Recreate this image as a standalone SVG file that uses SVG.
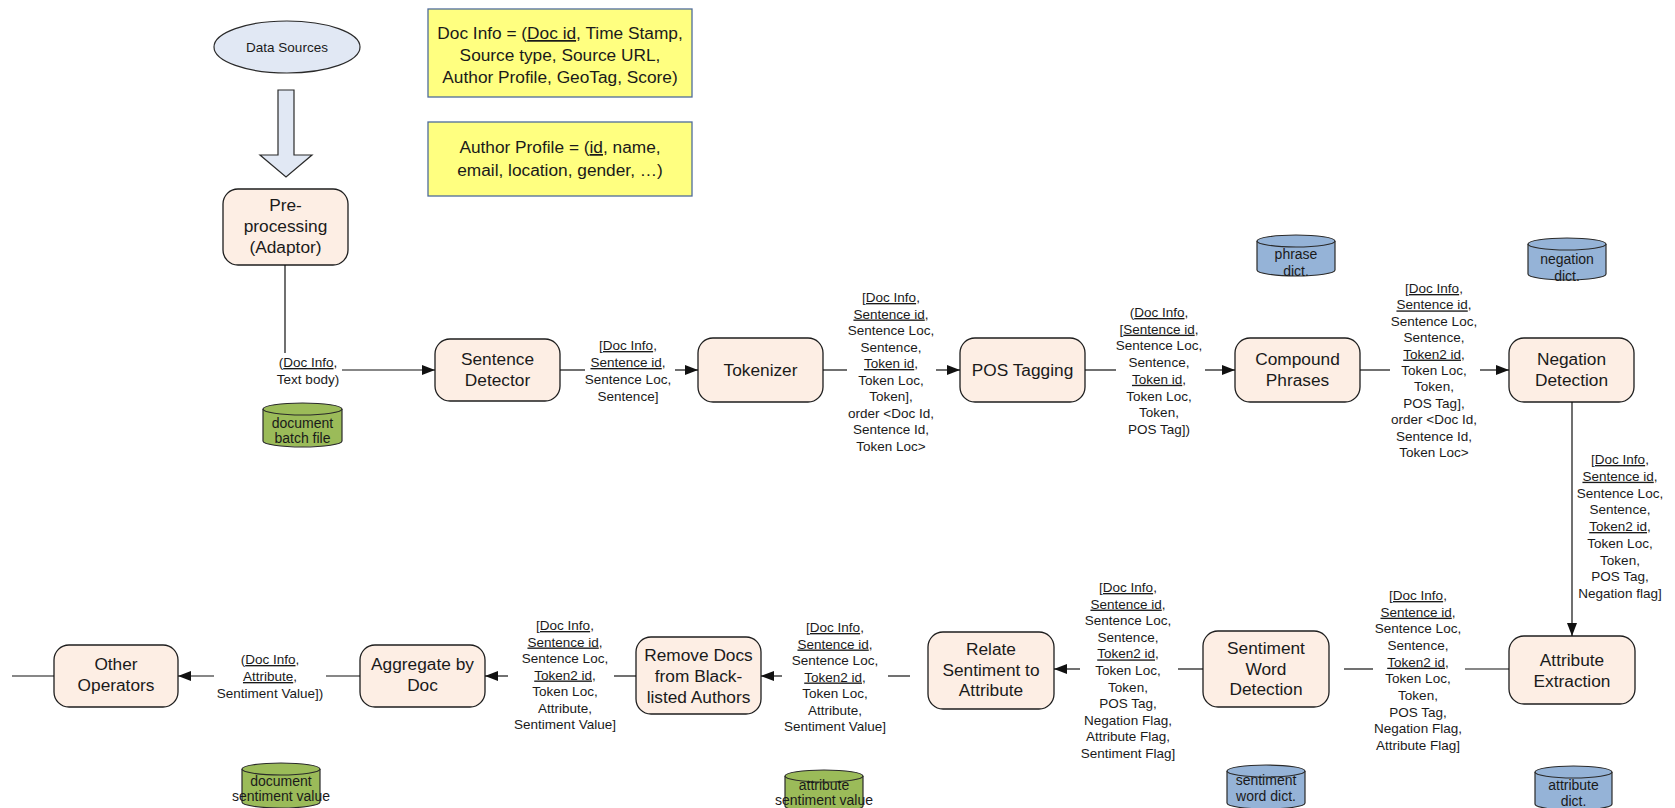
<svg xmlns="http://www.w3.org/2000/svg" width="1675" height="808" viewBox="0 0 1675 808">
  <style>
    .proc { fill: #fdeee4; stroke: #1e1e1e; stroke-width: 1.3; }
    .note { fill: #ffff80; stroke: #4f6c9a; stroke-width: 1.3; }
    .src { fill: #e1e8f4; stroke: #2a2a2a; stroke-width: 1.2; }
    .dbg { fill: #9bbb59; stroke: #2a2a2a; stroke-width: 1.2; }
    .dbb { fill: #95b3d7; stroke: #2a2a2a; stroke-width: 1.2; }
    text { font-family: "Liberation Sans", Arial, sans-serif; fill: #1a1a1a; text-anchor: middle; }
    .nt { font-size: 17.3px; }
    .lb { font-size: 13.5px; }
    .db { font-size: 14px; }
    .u { text-decoration: underline; }
    .conn path { fill: none; stroke: #111; stroke-width: 1.2; }
  </style>
  <defs>
    <marker id="arr" markerUnits="userSpaceOnUse" markerWidth="13" markerHeight="10" refX="13" refY="5" orient="auto">
      <path d="M0,0 L13,5 L0,10 z" fill="#111"/>
    </marker>
  </defs>

  <rect width="1675" height="808" fill="#ffffff"/>

  <!-- source and notes -->
  <g id="data-sources">
    <ellipse class="src" cx="287" cy="47" rx="73" ry="26"/>
    <text class="lb" x="287" y="52">Data Sources</text>
  </g>
  <g id="ingest-arrow">
    <polygon class="src" points="278,90 294,90 294,155 312,155 286,177 260,155 278,155"/>
  </g>
  <g id="doc-info-note">
    <rect class="note" x="428" y="9" width="264" height="88"/>
    <text class="nt" x="560" y="39">Doc Info = (<tspan class="u">Doc id</tspan>, Time Stamp,</text>
    <text class="nt" x="560" y="61">Source type, Source URL,</text>
    <text class="nt" x="560" y="83">Author Profile, GeoTag, Score)</text>
  </g>
  <g id="author-profile-note">
    <rect class="note" x="428" y="122" width="264" height="74"/>
    <text class="nt" x="560" y="153">Author Profile = (<tspan class="u">id</tspan>, name,</text>
    <text class="nt" x="560" y="176">email, location, gender, …)</text>
  </g>

  <!-- processing steps -->
  <g id="pre-processing">
    <rect class="proc" x="223" y="189" width="125" height="76" rx="15"/>
    <text class="nt" x="285.5" y="211">Pre-</text>
    <text class="nt" x="285.5" y="232">processing</text>
    <text class="nt" x="285.5" y="253">(Adaptor)</text>
  </g>
  <g id="sentence-detector">
    <rect class="proc" x="435" y="339" width="125" height="62" rx="15"/>
    <text class="nt" x="497.5" y="365">Sentence</text>
    <text class="nt" x="497.5" y="386">Detector</text>
  </g>
  <g id="tokenizer">
    <rect class="proc" x="698" y="338" width="125" height="64" rx="15"/>
    <text class="nt" x="760.5" y="376">Tokenizer</text>
  </g>
  <g id="pos-tagging">
    <rect class="proc" x="960" y="338" width="125" height="64" rx="15"/>
    <text class="nt" x="1022.5" y="376">POS Tagging</text>
  </g>
  <g id="compound-phrases">
    <rect class="proc" x="1235" y="338" width="125" height="64" rx="15"/>
    <text class="nt" x="1297.5" y="365">Compound</text>
    <text class="nt" x="1297.5" y="386">Phrases</text>
  </g>
  <g id="negation-detection">
    <rect class="proc" x="1509" y="338" width="125" height="64" rx="15"/>
    <text class="nt" x="1571.5" y="365">Negation</text>
    <text class="nt" x="1571.5" y="386">Detection</text>
  </g>
  <g id="attribute-extraction">
    <rect class="proc" x="1509" y="636" width="126" height="68" rx="15"/>
    <text class="nt" x="1572" y="666">Attribute</text>
    <text class="nt" x="1572" y="687">Extraction</text>
  </g>
  <g id="sentiment-word-detection">
    <rect class="proc" x="1203" y="631" width="126" height="76" rx="15"/>
    <text class="nt" x="1266" y="654">Sentiment</text>
    <text class="nt" x="1266" y="675">Word</text>
    <text class="nt" x="1266" y="695">Detection</text>
  </g>
  <g id="relate-sentiment">
    <rect class="proc" x="928" y="632" width="126" height="77" rx="15"/>
    <text class="nt" x="991" y="655">Relate</text>
    <text class="nt" x="991" y="676">Sentiment to</text>
    <text class="nt" x="991" y="696">Attribute</text>
  </g>
  <g id="remove-blacklisted">
    <rect class="proc" x="636" y="637" width="125" height="77" rx="15"/>
    <text class="nt" x="698.5" y="661">Remove Docs</text>
    <text class="nt" x="698.5" y="682">from Black-</text>
    <text class="nt" x="698.5" y="703">listed Authors</text>
  </g>
  <g id="aggregate-by-doc">
    <rect class="proc" x="360" y="645" width="125" height="62" rx="15"/>
    <text class="nt" x="422.5" y="670">Aggregate by</text>
    <text class="nt" x="422.5" y="691">Doc</text>
  </g>
  <g id="other-operators">
    <rect class="proc" x="54" y="645" width="124" height="62" rx="15"/>
    <text class="nt" x="116" y="670">Other</text>
    <text class="nt" x="116" y="691">Operators</text>
  </g>

  <!-- data stores -->
  <g id="document-batch-file">
    <path class="dbg" d="M263,409 A39.5,6 0 0 1 342,409 V441 A39.5,6 0 0 1 263,441 Z"/>
    <path class="dbg" d="M263,409 A39.5,6 0 0 0 342,409" fill="none"/>
    <text class="db" x="302.5" y="428">document</text>
    <text class="db" x="302.5" y="443">batch file</text>
  </g>
  <g id="phrase-dict">
    <path class="dbb" d="M1257,241 A39,6 0 0 1 1335,241 V270 A39,6 0 0 1 1257,270 Z"/>
    <path class="dbb" d="M1257,241 A39,6 0 0 0 1335,241" fill="none"/>
    <text class="db" x="1296" y="259">phrase</text>
    <text class="db" x="1296" y="276">dict.</text>
  </g>
  <g id="negation-dict">
    <path class="dbb" d="M1528,244 A39,6 0 0 1 1606,244 V274 A39,6 0 0 1 1528,274 Z"/>
    <path class="dbb" d="M1528,244 A39,6 0 0 0 1606,244" fill="none"/>
    <text class="db" x="1567" y="264">negation</text>
    <text class="db" x="1567" y="281">dict.</text>
  </g>
  <g id="attribute-dict">
    <path class="dbb" d="M1535,772 A38.5,6 0 0 1 1612,772 V804 A38.5,6 0 0 1 1535,804 Z"/>
    <path class="dbb" d="M1535,772 A38.5,6 0 0 0 1612,772" fill="none"/>
    <text class="db" x="1573.5" y="790">attribute</text>
    <text class="db" x="1573.5" y="806">dict.</text>
  </g>
  <g id="sentiment-word-dict">
    <path class="dbb" d="M1227,771 A39,6 0 0 1 1305,771 V803 A39,6 0 0 1 1227,803 Z"/>
    <path class="dbb" d="M1227,771 A39,6 0 0 0 1305,771" fill="none"/>
    <text class="db" x="1266" y="785">sentiment</text>
    <text class="db" x="1266" y="801">word dict.</text>
  </g>
  <g id="attribute-sentiment-value">
    <path class="dbg" d="M785,776 A39,6 0 0 1 863,776 V806 A39,6 0 0 1 785,806 Z"/>
    <path class="dbg" d="M785,776 A39,6 0 0 0 863,776" fill="none"/>
    <text class="db" x="824" y="790">attribute</text>
    <text class="db" x="824" y="805">sentiment value</text>
  </g>
  <g id="document-sentiment-value">
    <path class="dbg" d="M242,769 A39,6 0 0 1 320,769 V802 A39,6 0 0 1 242,802 Z"/>
    <path class="dbg" d="M242,769 A39,6 0 0 0 320,769" fill="none"/>
    <text class="db" x="281" y="786">document</text>
    <text class="db" x="281" y="801">sentiment value</text>
  </g>

  <!-- connectors -->
  <g id="connectors" class="conn">
    <path d="M285,265 V353"/>
    <path d="M342,370 H435" marker-end="url(#arr)"/>
    <path d="M560,370 H585"/>
    <path d="M675,370 H698" marker-end="url(#arr)"/>
    <path d="M823,370 H847"/>
    <path d="M936,370 H960" marker-end="url(#arr)"/>
    <path d="M1085,370 H1116"/>
    <path d="M1205,370 H1235" marker-end="url(#arr)"/>
    <path d="M1360,370 H1390"/>
    <path d="M1480,370 H1509" marker-end="url(#arr)"/>
    <path d="M1572,402 V636" marker-end="url(#arr)"/>
    <path d="M1509,669 H1465"/>
    <path d="M1373,669 H1344"/>
    <path d="M1203,669 H1178"/>
    <path d="M1080,669 H1054" marker-end="url(#arr)"/>
    <path d="M910,676 H888"/>
    <path d="M782,676 H761" marker-end="url(#arr)"/>
    <path d="M636,676 H614"/>
    <path d="M508,676 H485" marker-end="url(#arr)"/>
    <path d="M360,676 H326"/>
    <path d="M214,676 H178" marker-end="url(#arr)"/>
    <path d="M54,676 H12"/>
  </g>

  <!-- connector labels -->
  <g id="connector-labels" class="lb">
    <text class="lb" x="308" y="367">(<tspan class="u">Doc Info</tspan>,</text>
    <text class="lb" x="308" y="384">Text body)</text>

    <text class="lb" x="628" y="350"><tspan class="u">[Doc Info</tspan>,</text>
    <text class="lb" x="628" y="367"><tspan class="u">Sentence id</tspan>,</text>
    <text class="lb" x="628" y="384">Sentence Loc,</text>
    <text class="lb" x="628" y="401">Sentence]</text>

    <text class="lb" x="891" y="302"><tspan class="u">[Doc Info</tspan>,</text>
    <text class="lb" x="891" y="318.5"><tspan class="u">Sentence id</tspan>,</text>
    <text class="lb" x="891" y="335">Sentence Loc,</text>
    <text class="lb" x="891" y="351.5">Sentence,</text>
    <text class="lb" x="891" y="368"><tspan class="u">Token id</tspan>,</text>
    <text class="lb" x="891" y="384.5">Token Loc,</text>
    <text class="lb" x="891" y="401">Token],</text>
    <text class="lb" x="891" y="417.5">order &lt;Doc Id,</text>
    <text class="lb" x="891" y="434">Sentence Id,</text>
    <text class="lb" x="891" y="450.5">Token Loc&gt;</text>

    <text class="lb" x="1159" y="317">(<tspan class="u">Doc Info</tspan>,</text>
    <text class="lb" x="1159" y="333.7">[<tspan class="u">Sentence id</tspan>,</text>
    <text class="lb" x="1159" y="350.4">Sentence Loc,</text>
    <text class="lb" x="1159" y="367.1">Sentence,</text>
    <text class="lb" x="1159" y="383.8"><tspan class="u">Token id</tspan>,</text>
    <text class="lb" x="1159" y="400.5">Token Loc,</text>
    <text class="lb" x="1159" y="417.2">Token,</text>
    <text class="lb" x="1159" y="434">POS Tag])</text>

    <text class="lb" x="1434" y="293"><tspan class="u">[Doc Info</tspan>,</text>
    <text class="lb" x="1434" y="309.4"><tspan class="u">Sentence id</tspan>,</text>
    <text class="lb" x="1434" y="325.8">Sentence Loc,</text>
    <text class="lb" x="1434" y="342.2">Sentence,</text>
    <text class="lb" x="1434" y="358.6"><tspan class="u">Token2 id</tspan>,</text>
    <text class="lb" x="1434" y="375">Token Loc,</text>
    <text class="lb" x="1434" y="391.4">Token,</text>
    <text class="lb" x="1434" y="407.8">POS Tag],</text>
    <text class="lb" x="1434" y="424.2">order &lt;Doc Id,</text>
    <text class="lb" x="1434" y="440.6">Sentence Id,</text>
    <text class="lb" x="1434" y="457">Token Loc&gt;</text>

    <text class="lb" x="1620" y="464"><tspan class="u">[Doc Info</tspan>,</text>
    <text class="lb" x="1620" y="480.75"><tspan class="u">Sentence id</tspan>,</text>
    <text class="lb" x="1620" y="497.5">Sentence Loc,</text>
    <text class="lb" x="1620" y="514.25">Sentence,</text>
    <text class="lb" x="1620" y="531"><tspan class="u">Token2 id</tspan>,</text>
    <text class="lb" x="1620" y="547.75">Token Loc,</text>
    <text class="lb" x="1620" y="564.5">Token,</text>
    <text class="lb" x="1620" y="581.25">POS Tag,</text>
    <text class="lb" x="1620" y="598">Negation flag]</text>

    <text class="lb" x="1418" y="600"><tspan class="u">[Doc Info</tspan>,</text>
    <text class="lb" x="1418" y="616.7"><tspan class="u">Sentence id</tspan>,</text>
    <text class="lb" x="1418" y="633.3">Sentence Loc,</text>
    <text class="lb" x="1418" y="650">Sentence,</text>
    <text class="lb" x="1418" y="666.7"><tspan class="u">Token2 id</tspan>,</text>
    <text class="lb" x="1418" y="683.3">Token Loc,</text>
    <text class="lb" x="1418" y="700">Token,</text>
    <text class="lb" x="1418" y="716.7">POS Tag,</text>
    <text class="lb" x="1418" y="733.3">Negation Flag,</text>
    <text class="lb" x="1418" y="750">Attribute Flag]</text>

    <text class="lb" x="1128" y="592"><tspan class="u">[Doc Info</tspan>,</text>
    <text class="lb" x="1128" y="608.6"><tspan class="u">Sentence id</tspan>,</text>
    <text class="lb" x="1128" y="625.2">Sentence Loc,</text>
    <text class="lb" x="1128" y="641.8">Sentence,</text>
    <text class="lb" x="1128" y="658.4"><tspan class="u">Token2 id</tspan>,</text>
    <text class="lb" x="1128" y="675">Token Loc,</text>
    <text class="lb" x="1128" y="691.6">Token,</text>
    <text class="lb" x="1128" y="708.2">POS Tag,</text>
    <text class="lb" x="1128" y="724.8">Negation Flag,</text>
    <text class="lb" x="1128" y="741.4">Attribute Flag,</text>
    <text class="lb" x="1128" y="758">Sentiment Flag]</text>

    <text class="lb" x="835" y="632"><tspan class="u">[Doc Info</tspan>,</text>
    <text class="lb" x="835" y="648.5"><tspan class="u">Sentence id</tspan>,</text>
    <text class="lb" x="835" y="665">Sentence Loc,</text>
    <text class="lb" x="835" y="681.5"><tspan class="u">Token2 id</tspan>,</text>
    <text class="lb" x="835" y="698">Token Loc,</text>
    <text class="lb" x="835" y="714.5">Attribute,</text>
    <text class="lb" x="835" y="731">Sentiment Value]</text>

    <text class="lb" x="565" y="630"><tspan class="u">[Doc Info</tspan>,</text>
    <text class="lb" x="565" y="646.5"><tspan class="u">Sentence id</tspan>,</text>
    <text class="lb" x="565" y="663">Sentence Loc,</text>
    <text class="lb" x="565" y="679.5"><tspan class="u">Token2 id</tspan>,</text>
    <text class="lb" x="565" y="696">Token Loc,</text>
    <text class="lb" x="565" y="712.5">Attribute,</text>
    <text class="lb" x="565" y="729">Sentiment Value]</text>

    <text class="lb" x="270" y="664">(<tspan class="u">Doc Info</tspan>,</text>
    <text class="lb" x="270" y="681"><tspan class="u">Attribute</tspan>,</text>
    <text class="lb" x="270" y="698">Sentiment Value])</text>
  </g>
</svg>
